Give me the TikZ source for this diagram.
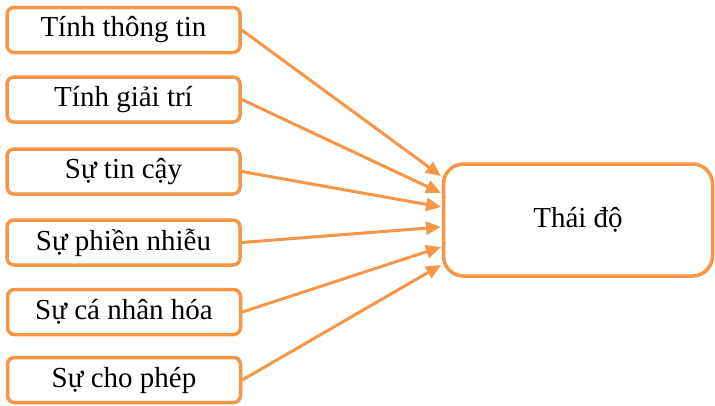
\documentclass[tikz,border=0pt]{standalone}
\usepackage{fontspec}
\setmainfont{Liberation Serif}
\usetikzlibrary{arrows.meta,calc}
\definecolor{accent}{HTML}{F79646}
\tikzset{
  factor/.style={draw=accent, line width=3.5pt, rounded corners=7pt, fill=white,
    minimum width=233pt, minimum height=45pt, inner sep=0pt,
    font=\fontsize{29}{34}\selectfont},
  outcome/.style={draw=accent, line width=3.5pt, rounded corners=20pt, fill=white,
    minimum width=269pt, minimum height=112pt, inner sep=0pt,
    font=\fontsize{29}{34}\selectfont},
  link/.style={draw=accent, line width=3pt,
    -{Triangle[length=15pt,width=13pt]}}
}
\begin{document}
\begin{tikzpicture}[x=1pt,y=-1pt]
  \useasboundingbox[fill=white] (0,0) rectangle (715,405);

  % influencing factors
  \node[factor] (b1) at (123.5,30)  {Tính thông tin};
  \node[factor] (b2) at (123.5,99.5) {Tính giải trí};
  \node[factor] (b3) at (123.5,171.5) {Sự tin cậy};
  \node[factor] (b4) at (123.5,242.5) {Sự phiền nhiễu};
  \node[factor] (b5) at (124,312)   {Sự cá nhân hóa};
  \node[factor] (b6) at (124,380)   {Sự cho phép};

  % attitude
  \node[outcome] (t) at (578,220) {Thái độ};

  % arrow targets on the left side of the attitude box
  \coordinate (e1) at (441,176);
  \coordinate (e2) at (441,193);
  \coordinate (e3) at (441,207);
  \coordinate (e4) at (441,227);
  \coordinate (e5) at (441,247);
  \coordinate (e6) at (441,265);

  \draw[link] (b1.east) -- (e1);
  \draw[link] (b2.east) -- (e2);
  \draw[link] (b3.east) -- (e3);
  \draw[link] (b4.east) -- (e4);
  \draw[link] (b5.east) -- (e5);
  \draw[link] (b6.east) -- (e6);
\end{tikzpicture}
\end{document}
